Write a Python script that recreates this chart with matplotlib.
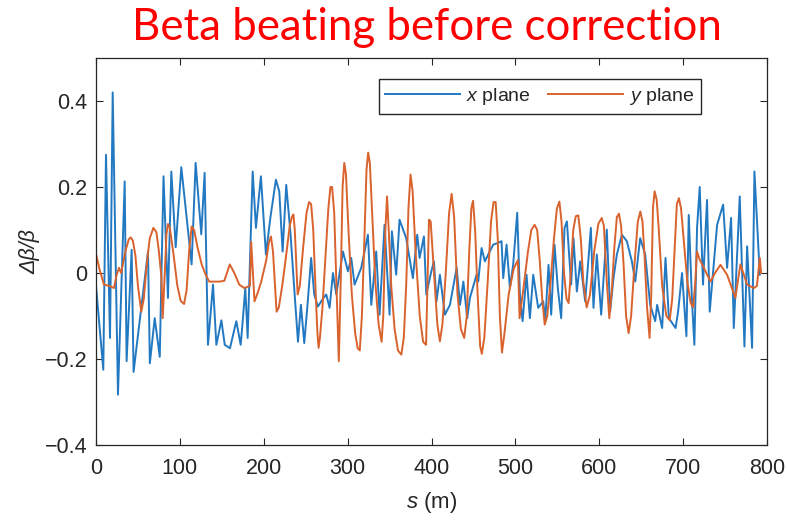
import matplotlib
matplotlib.use("Agg")
import matplotlib.pyplot as plt

# Beta-beating along the ring, horizontal plane
s_x = [0, 8.7, 11.9, 16.7, 19.9, 26.2, 34.2, 36.5, 42.5, 44.8, 62.0, 64.2, 70.0, 76.0,
       80.5, 85.8, 89.8, 95.0, 101.7, 114.0, 118.8, 125.5, 129.5, 133.5, 139.5, 143.5,
       149.5, 153.5, 159.7, 167.3, 172.5, 175.0, 178.0, 180.8, 186.8, 190.7, 196.6, 202.6,
       208.0, 214.5, 218.5, 222.5, 226.8, 232.0, 235.5, 240.8, 244.3, 248.3, 252.5, 256.5,
       260.2, 264.6, 270.5, 274.5, 278.5, 282.5, 286.5, 294.4, 300.4, 304.3, 308.3, 316.2,
       324.2, 328.2, 334.1, 338.1, 344.0, 350.0, 352.8, 357.9, 361.9, 369.8, 377.8, 383.0,
       385.8, 391.0, 393.8, 399.8, 402.9, 406.0, 410.0, 414.0, 416.0, 422.0, 430.0, 434.0,
       438.0, 442.6, 445.8, 453.7, 455.7, 459.7, 463.7, 467.6, 473.6, 479.5, 483.5, 485.5,
       489.5, 493.5, 497.4, 502.2, 505.4, 508.6, 513.3, 517.3, 521.3, 527.2, 533.2, 535.6,
       539.5, 542.7, 546.7, 550.6, 554.6, 558.6, 561.4, 566.5, 569.3, 573.3, 577.3, 583.2,
       590.0, 593.1, 597.1, 602.3, 609.0, 613.0, 617.0, 621.0, 627.0, 632.9, 638.9, 642.9,
       648.8, 654.8, 660.7, 666.7, 669.0, 675.0, 679.0, 683.0, 691.0, 694.0, 698.7, 703.9,
       706.7, 710.6, 713.4, 716.6, 719.8, 723.7, 728.5, 731.7, 740.5, 747.7, 752.4, 757.2,
       760.4, 767.5, 773.1, 776.3, 782.2, 785.0, 791.4]
dbeta_x = [-0.03, -0.225, 0.275, -0.151, 0.42, -0.283, 0.213, -0.205, 0.054, -0.23, 0.05,
           -0.21, -0.105, -0.195, 0.225, -0.058, 0.236, 0.06, 0.246, 0.02, 0.256, 0.09, 0.233,
           -0.167, -0.027, -0.167, -0.11, -0.167, -0.175, -0.112, -0.167, -0.11, -0.035,
           -0.151, 0.236, 0.105, 0.225, 0.043, 0.13, 0.217, 0.19, 0.05, 0.205, 0.089, -0.012,
           -0.16, -0.074, -0.163, -0.066, 0.035, -0.05, -0.078, -0.06, -0.05, -0.081, 0.0,
           -0.05, 0.05, 0.004, 0.035, -0.027, 0.012, 0.089, -0.074, 0.05, -0.097, 0.112,
           -0.097, 0.097, -0.004, 0.124, 0.081, -0.012, 0.089, 0.035, 0.085, -0.05, 0.004,
           0.027, -0.066, -0.004, -0.066, -0.097, -0.074, 0.012, -0.074, -0.02, -0.105,
           -0.058, -0.004, -0.02, 0.058, 0.027, 0.043, 0.066, 0.07, 0.074, -0.012, 0.066,
           -0.035, 0.02, 0.14, -0.05, -0.112, -0.004, -0.105, -0.004, -0.081, -0.066, -0.112,
           0.019, -0.097, 0.066, -0.035, -0.105, 0.105, 0.12, -0.027, 0.081, -0.043, 0.027,
           -0.066, 0.105, -0.081, 0.043, -0.097, 0.101, -0.089, -0.012, 0.043, 0.089, 0.074,
           0.027, -0.02, 0.081, 0.043, -0.074, -0.112, -0.074, -0.128, 0.035, -0.105, -0.128,
           -0.09, 0.0, -0.147, 0.135, -0.066, -0.167, 0.105, 0.2, -0.027, 0.17, -0.09, 0.112,
           0.159, 0.012, 0.128, -0.128, 0.178, -0.171, 0.062, -0.174, 0.236, -0.004]

# Beta-beating along the ring, vertical plane
s_y = [0, 4, 9.5, 16, 21.4, 24.5, 27.4, 30, 35, 39, 41.3, 44, 47, 50, 54, 57, 60, 64, 68.4,
       72, 75, 78, 79.5, 82, 84, 85.8, 88, 92, 97, 101, 105, 108, 111, 114, 117, 121, 126,
       131, 135, 139.5, 147, 153, 159.5, 164.9, 170.8, 176.8, 183.5, 185.0, 189.0, 193,
       197, 203, 206, 208.6, 211, 215.3, 218, 222, 226, 231, 233.5, 235.4, 237, 240.4, 243,
       247, 251, 254, 256.5, 259, 262, 264, 265.4, 267, 270, 274, 277, 279.5, 281.5, 284,
       286.5, 289.5, 292, 294, 296, 298, 301, 305, 309, 312, 314.5, 317, 320, 322.5, 324.5,
       326.5, 329, 333, 337, 340.5, 342.5, 345, 347, 349, 352, 356, 360, 364, 367, 370,
       372.5, 375, 377.5, 381, 386, 390, 393.5, 395.5, 397, 399, 403, 407, 410, 413, 417,
       421, 424, 427, 431, 435, 439, 442, 445, 447.5, 449.5, 452, 455, 458, 460, 463, 467,
       471, 474, 476.5, 479, 481.5, 484, 487, 492, 498, 503, 505, 510, 515, 519, 523, 526,
       529, 532, 535, 538, 542, 546, 549.5, 552.5, 555, 558, 561, 563.5, 566, 569, 572,
       575, 578, 581, 585, 589, 594, 599, 603, 605.5, 609, 612, 615, 618, 621, 623.5, 626,
       629, 632, 635, 638, 642, 646, 649, 651.5, 654, 657, 660, 662, 664, 666, 668.5, 671,
       675, 680, 684, 687, 690, 692.5, 695, 697.5, 701, 705, 709, 712, 714.5, 716.5, 720,
       724.7, 732.6, 738, 744.5, 752.4, 762.3, 768.3, 776.3, 784.3, 788, 791.4, 793]
dbeta_y = [0.045, 0.01, -0.027, -0.03, -0.035, -0.005, 0.012, 0.0, 0.05, 0.078, 0.083,
           0.075, 0.04, -0.03, -0.09, -0.06, 0.01, 0.08, 0.105, 0.095, 0.05, -0.01, -0.105,
           0.0, 0.09, 0.114, 0.105, 0.05, -0.03, -0.065, -0.072, -0.04, 0.05, 0.108, 0.1,
           0.06, 0.02, -0.005, -0.02, -0.02, -0.02, -0.018, 0.02, 0.0, -0.027, -0.035, -0.03,
           0.072, -0.066, -0.045, -0.02, 0.03, 0.07, 0.085, 0.05, -0.09, -0.08, -0.03, 0.03,
           0.11, 0.13, 0.136, 0.1, -0.05, -0.03, 0.06, 0.14, 0.165, 0.16, 0.1, -0.05, -0.14,
           -0.174, -0.15, -0.08, 0.05, 0.15, 0.2, 0.2, 0.14, -0.02, -0.205, 0.0, 0.2, 0.256,
           0.23, 0.1, -0.05, -0.14, -0.175, -0.18, -0.1, 0.08, 0.24, 0.28, 0.255, 0.15, -0.02,
           -0.12, -0.16, -0.1, 0.1, 0.178, 0.1, -0.03, -0.13, -0.18, -0.19, -0.15, -0.02, 0.15,
           0.229, 0.19, 0.05, -0.1, -0.16, -0.167, 0.0, 0.124, 0.12, 0.0, -0.12, -0.159,
           -0.12, 0.0, 0.14, 0.184, 0.13, -0.05, -0.13, -0.151, -0.1, 0.05, 0.15, 0.168, 0.1,
           -0.05, -0.17, -0.188, -0.15, -0.02, 0.12, 0.165, 0.165, 0.08, -0.1, -0.185, -0.14,
           -0.05, 0.01, 0.03, -0.105, -0.03, 0.05, 0.1, 0.112, 0.1, 0.03, -0.06, -0.12, -0.1,
           -0.02, 0.08, 0.15, 0.166, 0.12, 0.0, -0.06, -0.07, 0.0, 0.1, 0.132, 0.134, 0.08,
           -0.02, -0.08, -0.05, 0.05, 0.115, 0.128, 0.11, -0.02, -0.105, -0.04, 0.06, 0.13,
           0.138, 0.11, 0.02, -0.1, -0.14, -0.1, 0.02, 0.12, 0.143, 0.12, 0.04, -0.08, -0.151,
           -0.05, 0.15, 0.19, 0.17, 0.1, -0.03, -0.1, -0.11, -0.06, 0.06, 0.16, 0.174, 0.15,
           0.07, -0.02, -0.07, -0.08, -0.02, 0.05, 0.03, 0.012, -0.02, 0.0, 0.019, -0.004,
           -0.058, 0.02, -0.027, -0.035, -0.03, 0.035, 0.0]

x_ticks = [0, 100, 200, 300, 400, 500, 600, 700, 800]
y_ticks = [-0.4, -0.2, 0, 0.2, 0.4]
y_ticklabels = ["\u22120.4", "\u22120.2", "0", "0.2", "0.4"]

plt.rcParams["font.family"] = ["Liberation Sans", "DejaVu Sans"]
plt.rcParams["mathtext.fontset"] = "custom"
plt.rcParams["mathtext.rm"] = "Liberation Sans"
plt.rcParams["mathtext.it"] = "Liberation Sans:italic"

BLUE = "#2279c2"
ORANGE = "#d9622d"
DARK = "#262626"

fig = plt.figure(figsize=(7.87, 5.21), dpi=100)
ax = fig.add_axes([96 / 787, 1 - 445 / 521, 671 / 787, 387 / 521])

ax.plot(s_x, dbeta_x, color=BLUE, lw=1.4, label=r"$x$ plane")
ax.plot(s_y, dbeta_y, color=ORANGE, lw=1.4, label=r"$y$ plane")

ax.set_xlim(0, 800)
ax.set_ylim(-0.4, 0.5)
ax.set_xticks(x_ticks)
ax.set_yticks(y_ticks)
ax.set_yticklabels(y_ticklabels)
ax.tick_params(direction="in", top=True, right=True, length=5, width=0.8,
               colors=DARK, labelsize=15.5, labelcolor=DARK)
ax.tick_params(axis="x", pad=9)
ax.tick_params(axis="y", pad=6)
for sp in ax.spines.values():
    sp.set_color(DARK)
    sp.set_linewidth(0.9)

ax.set_xlabel(r"$s$ (m)", fontsize=16, color=DARK, labelpad=8)
ax.set_ylabel("\u0394\u03b2/\u03b2", fontsize=15.5, color=DARK, style="italic", labelpad=3)

leg = ax.legend(loc="upper right", bbox_to_anchor=(0.9016, 0.9457), borderaxespad=0,
                ncol=2, fontsize=14, handlelength=3.85, handletextpad=0.3,
                columnspacing=0.9, borderpad=0.35, fancybox=False, framealpha=1)
leg.get_frame().set_edgecolor(DARK)
leg.get_frame().set_linewidth(1.0)
for t in leg.get_texts():
    t.set_color(DARK)

title = fig.text(427 / 787, 1 - 40 / 521, "Beta beating before correction", color="#ff0000",
                 family="Lato", fontsize=30, ha="center", va="baseline")
fig.canvas.draw()
w = title.get_window_extent().width
title.set_fontsize(30 * 589 / w)

fig.savefig("out.png", dpi=100)
